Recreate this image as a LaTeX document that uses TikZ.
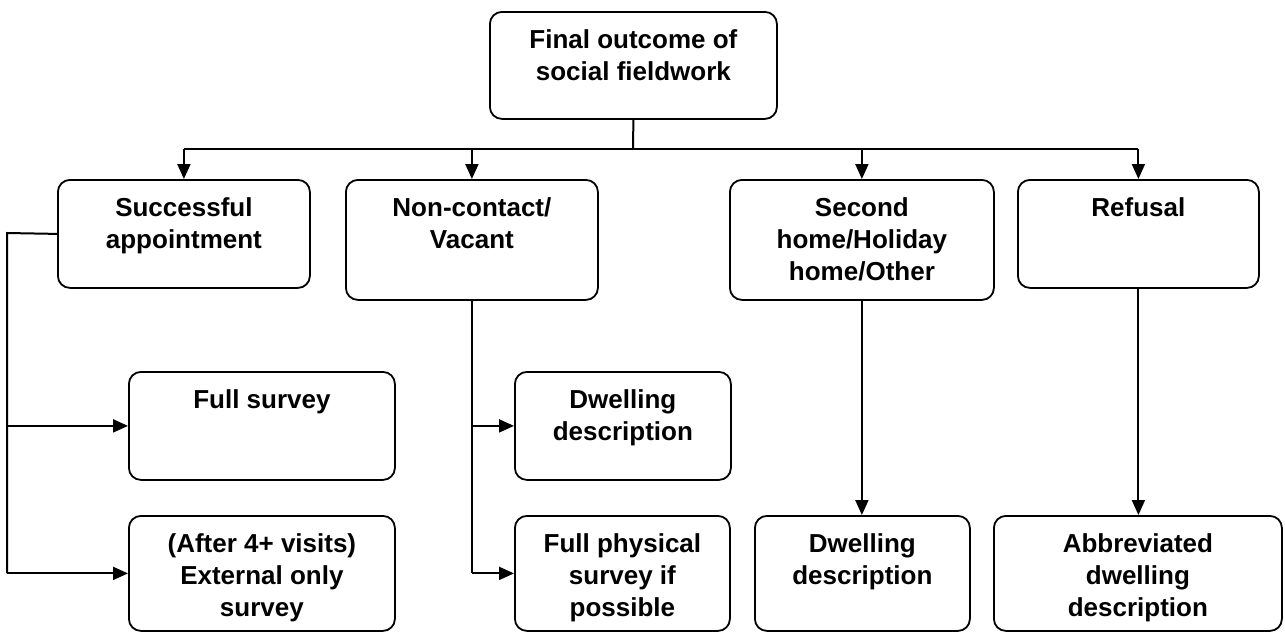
\documentclass[tikz,border=0pt]{standalone}
\usepackage{fontspec}
\setmainfont{Liberation Sans}
\usepackage{tikz}
\usetikzlibrary{arrows.meta}

\newcommand{\outcome}[3]{\parbox[t][#2][t]{#1}{\centering\rule{0pt}{37pt}#3}}

\begin{document}
\begin{tikzpicture}[x=1pt, y=-1pt,
	box/.style={draw=black, line width=1.8pt, rounded corners=12pt, inner sep=0pt, anchor=north west, font=\bfseries\fontsize{26}{31.7}\selectfont},
	link/.style={draw=black, line width=2pt},
	arrow/.style={link, -{Triangle[length=15pt, width=13pt]}}]
	\useasboundingbox (0,0) rectangle (1285,633);

	\node[box] (final) at (489,11) {\outcome{287pt}{107pt}{Final outcome of\\social fieldwork}};

	\node[box] (succ) at (57,179) {\outcome{252pt}{108pt}{Successful\\appointment}};
	\node[box] (noncon) at (345,179) {\outcome{252pt}{120pt}{Non-contact/\\Vacant}};
	\node[box] (second) at (729,179) {\outcome{264pt}{120pt}{Second\\home/Holiday\\home/Other}};
	\node[box] (refusal) at (1017,179) {\outcome{241pt}{108pt}{Refusal}};

	\node[box] (full) at (128,371) {\outcome{266pt}{108pt}{Full survey}};
	\node[box] (dwella) at (514,371) {\outcome{216pt}{108pt}{Dwelling\\description}};

	\node[box] (ext) at (128,515) {\outcome{266pt}{115pt}{(After 4+ visits)\\External only\\survey}};
	\node[box] (phys) at (514,515) {\outcome{215pt}{115pt}{Full physical\\survey if\\possible}};
	\node[box] (dwellb) at (754,515) {\outcome{215pt}{115pt}{Dwelling\\description}};
	\node[box] (abbrev) at (993,515) {\outcome{288pt}{115pt}{Abbreviated\\dwelling\\description}};

	\coordinate (hub) at (633,149);
	\coordinate (lft) at (7,233);

	\path[link] (final.south) -- (hub);
	\path[link] (succ.north |- hub) -- (refusal.north |- hub);
	\path[arrow] (succ.north |- hub) -- (succ.north);
	\path[arrow] (noncon.north |- hub) -- (noncon.north);
	\path[arrow] (second.north |- hub) -- (second.north);
	\path[arrow] (refusal.north |- hub) -- (refusal.north);

	\path[link] (succ.west) -- (lft) -- (lft |- ext.west);
	\path[arrow] (lft |- full.west) -- (full.west);
	\path[arrow] (lft |- ext.west) -- (ext.west);

	\path[link] (noncon.south) -- (noncon.south |- phys.west);
	\path[arrow] (noncon.south |- dwella.west) -- (dwella.west);
	\path[arrow] (noncon.south |- phys.west) -- (phys.west);

	\path[arrow] (second.south) -- (second.south |- dwellb.north);
	\path[arrow] (refusal.south) -- (refusal.south |- abbrev.north);
\end{tikzpicture}
\end{document}
